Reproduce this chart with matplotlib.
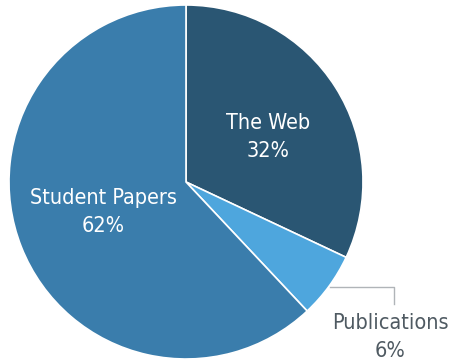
import matplotlib
matplotlib.use("Agg")
import matplotlib.pyplot as plt

labels = ["The Web", "Publications", "Student Papers"]
shares = [32, 6, 62]
colors = ["#2a5673", "#4ea6dd", "#3a7dac"]

plt.rcParams['font.family'] = ['DejaVu Sans']
plt.rcParams['font.stretch'] = 'condensed'

fig = plt.figure(figsize=(4.5, 3.64), dpi=100)
ax = fig.add_axes([0, 0, 1, 1])

ax.pie(shares, colors=colors, startangle=90, counterclock=False,
       center=(186, 182), radius=177, frame=True,
       wedgeprops=dict(edgecolor='white', linewidth=1.2))
ax.set_xlim(0, 450)
ax.set_ylim(0, 364)
ax.axis('off')

# inside labels
ax.text(268, 364 - 137, f"{labels[0]}\n{shares[0]}%", color='white',
        fontsize=15.5, ha='center', va='center', linespacing=1.55)
ax.text(103, 364 - 212, f"{labels[2]}\n{shares[2]}%", color='white',
        fontsize=15.5, ha='center', va='center', linespacing=1.55)

# leader line for small slice
ax.plot([330, 394, 394], [364 - 287, 364 - 287, 364 - 304],
        color='#b0b4b8', lw=1)
ax.text(390, 364 - 337, f"{labels[1]}\n{shares[1]}%", color='#4f5a62',
        fontsize=15.5, ha='center', va='center', linespacing=1.55)

fig.savefig("out.png", dpi=100)
